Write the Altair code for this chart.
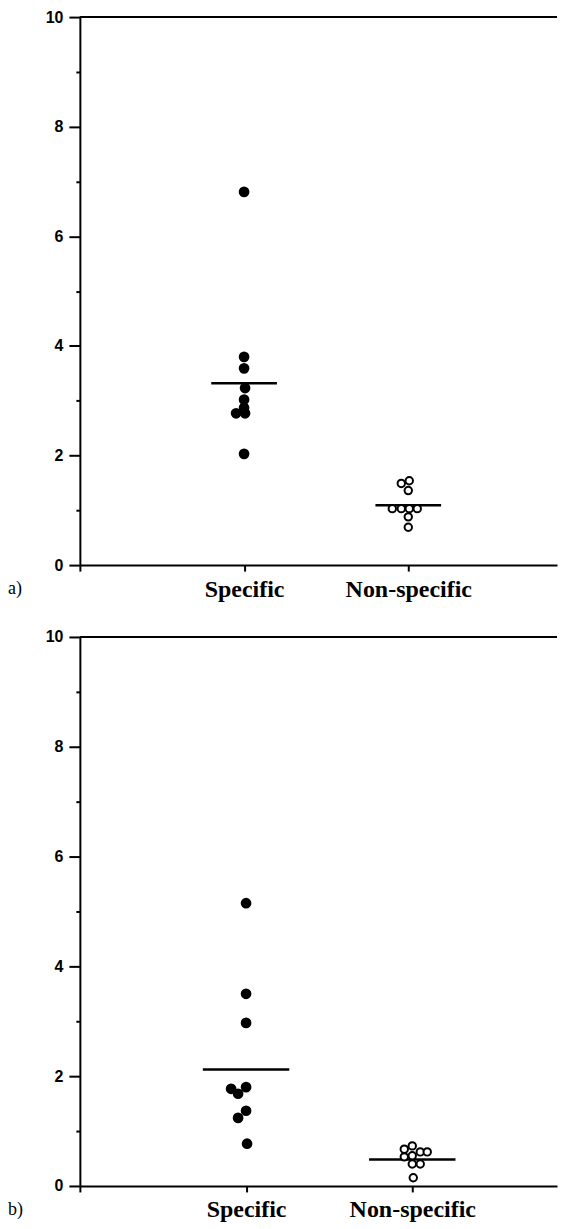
import altair as alt
import pandas as pd

categories = ["Specific", "Non-specific"]
y_ticks = list(range(0, 11))

# panel a) values and horizontal spread (pixels)
a_specific = [6.81, 3.80, 3.59, 3.23, 3.02, 2.87, 2.77, 2.77, 2.03]
a_specific_dx = [0, 0, 0, 1, 0, 0, -8, 1, 0]
a_nonspecific = [1.54, 1.49, 1.36, 1.03, 1.03, 1.03, 1.03, 0.88, 0.69]
a_nonspecific_dx = [1, -7, 0, -16, -7, 1, 9, 0, 0]
a_means = [3.32, 1.09]

# panel b)
b_specific = [5.15, 3.50, 2.97, 1.80, 1.77, 1.68, 1.37, 1.24, 0.77]
b_specific_dx = [0, 0, 0, 0, -15, -8, 0, -8, 1]
b_nonspecific = [0.73, 0.67, 0.62, 0.62, 0.55, 0.53, 0.40, 0.40, 0.15]
b_nonspecific_dx = [0, -8, 8, 15, 0, -8, 0, 8, 1]
b_means = [2.12, 0.48]

W = 478
SANS = "Liberation Sans Narrow, Arial Narrow, Liberation Sans, sans-serif"
SERIF = "Liberation Serif, Times New Roman, serif"


def panel(spec, spec_dx, non, non_dx, means, H, xmax, half, tag):
    ppu = W / xmax
    pts = pd.DataFrame({
        "group": [categories[0]] * len(spec) + [categories[1]] * len(non),
        "pos": [1] * len(spec) + [2] * len(non),
        "value": spec + non,
        "dx": spec_dx + non_dx,
    })
    mdf = pd.DataFrame({"group": categories, "pos": [1, 2], "mean": means})
    tdf = pd.DataFrame({"label": [tag]})

    xscale = alt.Scale(domain=[0, xmax], nice=False, zero=False)
    yscale = alt.Scale(domain=[0, 10], nice=False, zero=False)
    label_expr = ("datum.value == 1 ? '%s' : datum.value == 2 ? '%s' : ''"
                  % (categories[0], categories[1]))
    xaxis = alt.Axis(values=[0, 1, 2], labelExpr=label_expr, tickSize=6, tickWidth=2,
                     tickColor="black", domainColor="black", domainWidth=2,
                     labelFont=SERIF, labelFontSize=24, labelFontWeight="bold",
                     labelColor="black", labelPadding=6, grid=False,
                     labelFlush=False, labelOverlap=False)
    yaxis = alt.Axis(values=y_ticks, labelExpr="datum.value % 2 == 0 ? datum.label : ''",
                     tickSize={"condition": {"test": "datum.value % 2 == 0", "value": 11}, "value": 4},
                     tickWidth=2, tickColor="black", domainColor="black", domainWidth=2,
                     labelFont=SANS, labelFontSize=16, labelFontWeight="bold",
                     labelColor="black", labelPadding=6, grid=False, labelOverlap=False)

    def X(f):
        return alt.X(f, scale=xscale, axis=xaxis, title="")

    def Y(f):
        return alt.Y(f, scale=yscale, axis=yaxis, title="")

    top = alt.Chart(mdf).transform_calculate(top="10").mark_rule(
        color="black", strokeWidth=2).encode(y=Y("top:Q"), x=alt.value(0), x2=alt.value(W))

    mean_rules = alt.Chart(mdf).transform_calculate(
        lo="datum.pos - %f" % half, hi="datum.pos + %f" % half
    ).mark_rule(color="black", strokeWidth=2.5).encode(
        x=X("lo:Q"), x2="hi:Q", y=Y("mean:Q"))

    base = alt.Chart(pts).transform_calculate(xpos="datum.pos + datum.dx / %f" % ppu)
    filled = base.transform_filter("datum.pos == 1").mark_circle(
        size=115, color="black", opacity=1).encode(x=X("xpos:Q"), y=Y("value:Q"))
    hollow = base.transform_filter("datum.pos == 2").mark_circle(
        size=55, fill="white", stroke="black", strokeWidth=2, opacity=1
    ).encode(x=X("xpos:Q"), y=Y("value:Q"))

    tag_text = alt.Chart(tdf).mark_text(
        align="left", baseline="middle", font=SERIF, fontSize=18, color="black"
    ).encode(x=alt.value(-72), y=alt.value(H + 24), text="label:N")

    return alt.layer(top, mean_rules, filled, hollow, tag_text).properties(width=W, height=H)


pa = panel(a_specific, a_specific_dx, a_nonspecific, a_nonspecific_dx, a_means,
           549, W / 164.5, 0.2, "a)")
pb = panel(b_specific, b_specific_dx, b_nonspecific, b_nonspecific_dx, b_means,
           550, W / 166.5, 0.26, "b)")

chart = alt.vconcat(pa, pb, spacing=28).properties(
    padding={"left": 0, "top": 0, "right": 0, "bottom": 0}
).configure_view(strokeWidth=0)

chart.save("out.html", embed_options={"renderer": "svg", "actions": False})
